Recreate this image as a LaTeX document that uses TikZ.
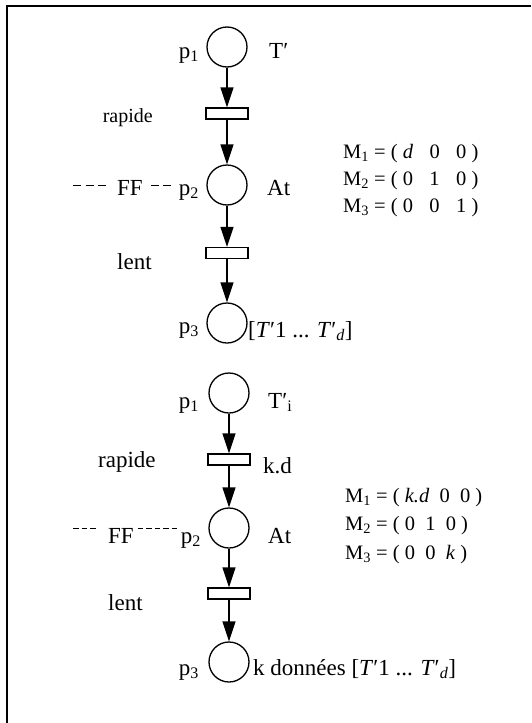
\documentclass[tikz,border=0pt]{standalone}
\usepackage{fontspec}
\setmainfont{Liberation Serif}
\usetikzlibrary{arrows.meta}
\begin{document}
\begin{tikzpicture}[x=1pt,y=-1pt,
  place/.style={draw,circle,line width=1.3pt,minimum size=40pt,inner sep=0pt},
  trans/.style={draw,rectangle,line width=1.3pt,minimum width=42pt,minimum height=11pt,inner sep=0pt,fill=white},
  arr/.style={line width=1.5pt,-{Triangle[length=20pt,width=13pt]}},
  big/.style={font=\fontsize{23}{27}\selectfont,inner sep=0pt},
  small/.style={font=\fontsize{20}{24}\selectfont,inner sep=0pt},
  med/.style={font=\fontsize{23}{27}\selectfont,inner sep=0pt},
  eqn/.style={font=\fontsize{20.5}{24}\selectfont,inner sep=0pt,anchor=base west},
  dsh/.style={line width=1pt,dash pattern=on 8pt off 4.5pt},
  dshb/.style={line width=1pt,dash pattern=on 5.5pt off 3pt}]
\useasboundingbox (0,0) rectangle (531,723);
\draw[line width=2pt] (7,723) -- (7,5.5) -- (531,5.5);

% ---------- top net ----------
\node[place] (Ap1) at (227,47) {};
\node[trans] (At1) at (227,113.5) {};
\node[place] (Ap2) at (227,185) {};
\node[trans] (At2) at (227,253) {};
\node[place] (Ap3) at (227,323) {};
\draw[arr] (Ap1.south) -- (At1.north);
\draw[arr] (At1.south) -- (Ap2.north);
\draw[arr] (Ap2.south) -- (At2.north);
\draw[arr] (At2.south) -- (Ap3.north);

\node[big,anchor=base east] (Alp1) at (199,58) {p\textsubscript{1}};
\node[big,anchor=base west] (AT) at (269,58) {T′};
\node[small,anchor=base east] (Arap) at (153,122) {rapide};
\node[big,anchor=base west] (AFF) at (117,195) {FF};
\node[big,anchor=base east] (Alp2) at (199,195) {p\textsubscript{2}};
\node[big,anchor=base west] (AAt) at (267,195) {At};
\node[med,anchor=base west] (Alent) at (117,269) {lent};
\node[big,anchor=base east] (Alp3) at (199,333) {p\textsubscript{3}};
\node[big,anchor=base west] (Aseq) at (248,337) {[\textit{T}′1 ... \textit{T}′\textsubscript{\textit{d}}]};
\coordinate (Adash) at (73,185);
\draw[dsh] (Adash) -- ([xshift=-8pt]Adash -| AFF.west);
\draw[dsh] ([xshift=8pt]AFF.east |- Adash) -- ([xshift=-5pt]Alp2.west |- Adash);

\node[eqn] (AM1) at (343,158) {M\textsubscript{1} = ( \textit{d}\hspace{0.8em}0\hspace{0.8em}0 )};
\node[eqn] (AM2) at (343,185) {M\textsubscript{2} = ( 0\hspace{0.8em}1\hspace{0.8em}0 )};
\node[eqn] (AM3) at (343,212) {M\textsubscript{3} = ( 0\hspace{0.8em}0\hspace{0.8em}1 )};

% ---------- bottom net ----------
\node[place] (Bp1) at (229,393) {};
\node[trans] (Bt1) at (229,459.5) {};
\node[place] (Bp2) at (229,528) {};
\node[trans] (Bt2) at (229,593.5) {};
\node[place] (Bp3) at (229,662) {};
\draw[arr] (Bp1.south) -- (Bt1.north);
\draw[arr] (Bt1.south) -- (Bp2.north);
\draw[arr] (Bp2.south) -- (Bt2.north);
\draw[arr] (Bt2.south) -- (Bp3.north);

\node[big,anchor=base east] (Blp1) at (199,408) {p\textsubscript{1}};
\node[big,anchor=base west] (BT) at (268,408) {T′\textsubscript{i}};
\node[med,anchor=base west] (Brap) at (98,467) {rapide};
\node[big,anchor=base west] (Bkd) at (263,473) {k.d};
\node[big,anchor=base west] (BFF) at (108,543) {FF};
\node[big,anchor=base east] (Blp2) at (201,543) {p\textsubscript{2}};
\node[big,anchor=base west] (BAt) at (268,543) {At};
\node[med,anchor=base west] (Blent) at (108,610) {lent};
\node[big,anchor=base east] (Blp3) at (199,675) {p\textsubscript{3}};
\node[big,anchor=base west] (Bseq) at (253,675) {k données [\textit{T}′1 ... \textit{T}′\textsubscript{\textit{d}}]};
\coordinate (Bdash) at (73,528);
\draw[dshb] (Bdash) -- ([xshift=-10pt]Bdash -| BFF.west);
\draw[dshb] ([xshift=4pt]BFF.east |- Bdash) -- ([xshift=-4pt]Blp2.west |- Bdash);

\node[eqn] (BM1) at (345,502) {M\textsubscript{1} = ( \textit{k.d}\ \ 0\ \ 0 )};
\node[eqn] (BM2) at (345,530) {M\textsubscript{2} = ( 0\ \ 1\ \ 0 )};
\node[eqn] (BM3) at (345,559) {M\textsubscript{3} = ( 0\ \ 0\ \ \textit{k} )};
\end{tikzpicture}
\end{document}
